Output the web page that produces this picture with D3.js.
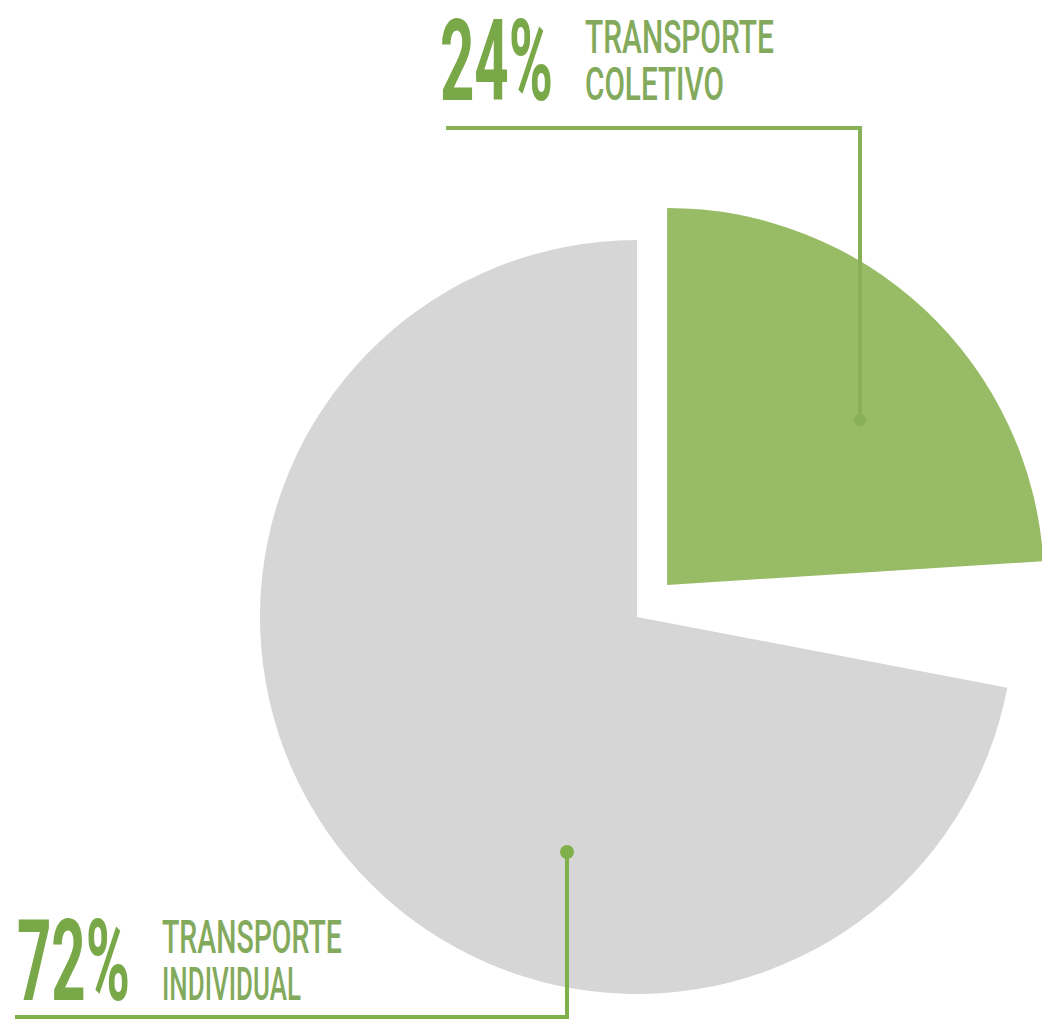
<!DOCTYPE html>
<html>
<head>
<meta charset="utf-8">
<script src="https://cdn.jsdelivr.net/npm/d3@7"></script>
<style>
  html, body { margin: 0; padding: 0; background: #fff; }
  svg { display: block; }
</style>
</head>
<body>
<svg id="chart"></svg>
<script>
// data
const categories = ["TRANSPORTE COLETIVO", "OUTROS", "TRANSPORTE INDIVIDUAL"];
const shares = [24, 4, 72];
const labelLine1 = ["TRANSPORTE", "", "TRANSPORTE"];
const labelLine2 = ["COLETIVO", "", "INDIVIDUAL"];

const width = 1042, height = 1020;
const cx = 637, cy = 617, radius = 377;

const colors = ["#98bc65", "none", "#d6d6d6"];
const numColor = "#78a848";
const textColor = "#83aa5c";

const svg = d3.select("#chart")
  .attr("width", width)
  .attr("height", height);

svg.append("rect").attr("width", width).attr("height", height).attr("fill", "#fff");

const pie = d3.pie().sort(null).value(d => d);
const arcs = pie(shares);

const arc = d3.arc().innerRadius(0).outerRadius(radius);

// green slice is pulled out from the center
const explode = [44, 0, 0];

const g = svg.append("g").attr("transform", `translate(${cx},${cy})`);

g.selectAll("path.slice")
  .data(arcs)
  .enter()
  .append("path")
  .attr("class", "slice")
  .attr("d", arc)
  .attr("fill", (d, i) => colors[i])
  .attr("transform", (d, i) => {
    const a = (d.startAngle + d.endAngle) / 2;
    return `translate(${Math.sin(a) * explode[i]},${-Math.cos(a) * explode[i]})`;
  });

// leader lines
function leader(points, dot, r, color) {
  svg.append("path")
    .attr("d", d3.line()(points))
    .attr("fill", "none")
    .attr("stroke", color)
    .attr("stroke-width", 4);
  svg.append("circle")
    .attr("cx", dot[0]).attr("cy", dot[1]).attr("r", r)
    .attr("fill", color);
}

leader([[446, 128], [860, 128], [860, 420]], [860, 420], 6, "#88b056");
leader([[15, 1017], [567, 1017], [567, 852]], [567, 852], 7, "#7fb04a");

// condensed text: squeeze horizontally to the wanted width
function squeezed(txt, x, y, size, weight, color, w) {
  const t = svg.append("text")
    .attr("x", 0).attr("y", 0)
    .attr("font-family", "Roboto, 'DejaVu Sans', sans-serif")
    .attr("font-weight", weight)
    .attr("font-size", size)
    .attr("fill", color)
    .text(txt);
  const natural = t.node().getComputedTextLength();
  t.attr("transform", `translate(${x},${y}) scale(${w / natural},1)`);
}

function label(i, x, base) {
  squeezed(shares[i] + "%", x, base, 114, 700, numColor, 113);
  squeezed(labelLine1[i], x + 145, base - 47, 46, 500, textColor, i === 0 ? 189 : 180);
  squeezed(labelLine2[i], x + 145, base, 46, 500, textColor, 139);
}

label(0, 440, 100);
label(2, 17, 1000);
</script>
</body>
</html>
